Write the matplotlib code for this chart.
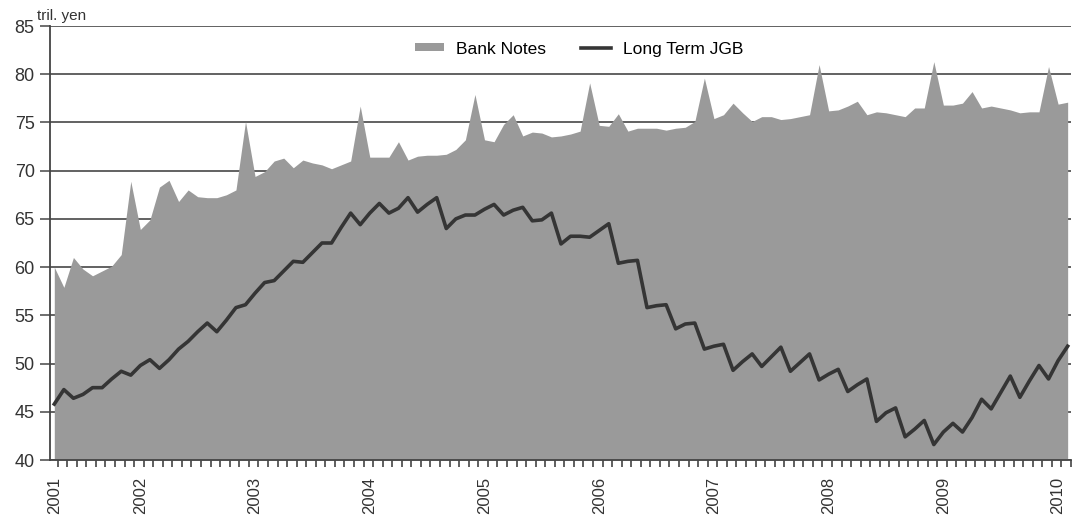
import numpy as np
import pandas as pd
import matplotlib
matplotlib.use("Agg")
import matplotlib.pyplot as plt

plt.rcParams['font.family'] = ['Liberation Sans', 'DejaVu Sans']

# monthly data, April 2001 - February 2010 (tril. yen)
months = pd.date_range("2001-04-01", periods=107, freq="MS")

bank_notes = [
    60.0, 57.9, 61.0, 59.8, 59.1, 59.6, 60.1, 61.3, 68.9, 63.9,
    64.9, 68.3, 69.0, 66.8, 68.0, 67.3, 67.2, 67.2, 67.5, 68.0,
    75.1, 69.4, 69.9, 71.0, 71.3, 70.3, 71.1, 70.8, 70.6, 70.2,
    70.6, 71.0, 76.7, 71.4, 71.4, 71.4, 73.0, 71.1, 71.5, 71.6,
    71.6, 71.7, 72.2, 73.2, 77.9, 73.2, 73.0, 74.8, 75.8, 73.6,
    74.0, 73.9, 73.5, 73.6, 73.8, 74.1, 79.1, 74.7, 74.6, 75.9,
    74.1, 74.4, 74.4, 74.4, 74.2, 74.4, 74.5, 75.1, 79.6, 75.4,
    75.8, 77.0, 76.0, 75.1, 75.6, 75.6, 75.3, 75.4, 75.6, 75.8,
    81.0, 76.2, 76.3, 76.7, 77.2, 75.8, 76.1, 76.0, 75.8, 75.6,
    76.5, 76.5, 81.3, 76.8, 76.8, 77.0, 78.2, 76.5, 76.7, 76.5,
    76.3, 76.0, 76.1, 76.1, 80.8, 76.9, 77.1,
]

long_term_jgb = [
    45.8, 47.3, 46.4, 46.8, 47.5, 47.5, 48.4, 49.2, 48.8, 49.8,
    50.4, 49.5, 50.4, 51.5, 52.3, 53.3, 54.2, 53.3, 54.5, 55.8,
    56.1, 57.3, 58.4, 58.6, 59.6, 60.6, 60.5, 61.5, 62.5, 62.5,
    64.1, 65.6, 64.4, 65.6, 66.6, 65.6, 66.1, 67.2, 65.7, 66.5,
    67.2, 64.0, 65.0, 65.4, 65.4, 66.0, 66.5, 65.4, 65.9, 66.2,
    64.8, 64.9, 65.6, 62.4, 63.2, 63.2, 63.1, 63.8, 64.5, 60.4,
    60.6, 60.7, 55.8, 56.0, 56.1, 53.6, 54.1, 54.2, 51.5, 51.8,
    52.0, 49.3, 50.2, 51.0, 49.7, 50.7, 51.7, 49.2, 50.1, 51.0,
    48.3, 48.9, 49.4, 47.1, 47.8, 48.4, 44.0, 44.9, 45.4, 42.4,
    43.2, 44.1, 41.6, 42.9, 43.8, 42.9, 44.4, 46.3, 45.3, 47.0,
    48.7, 46.5, 48.2, 49.8, 48.4, 50.3, 51.8,
]

x = np.arange(len(months))

fig = plt.figure(figsize=(10.72, 5.23), dpi=100)
ax = fig.add_axes([50 / 1072, 63 / 523, 1021 / 1072, 434 / 523])

ax.fill_between(x, 40, bank_notes, color='#9a9a9a', lw=0, zorder=2, label='Bank Notes')
ax.plot(x, long_term_jgb, color='#353535', lw=2.6, zorder=3, label='Long Term JGB')

ax.set_xlim(-0.45, 106.1)
ax.set_ylim(40, 85)
ax.set_yticks(np.arange(40, 86, 5))
ax.grid(axis='y', color='#555555', lw=1.3, zorder=1)
ax.set_axisbelow(True)

# year labels: first month and every January
lab_pos = [0] + [i for i, m in enumerate(months) if m.month == 1]
lab_txt = [str(months[i].year) for i in lab_pos]
ax.set_xticks(lab_pos)
ax.set_xticklabels(lab_txt, rotation=90, fontsize=12, color='#333333')
ax.set_xticks(x + 0.35, minor=True)
ax.tick_params(axis='x', which='major', length=0, pad=12)
ax.tick_params(axis='x', which='minor', length=5, width=1.2, color='#444444', direction='out')
ax.tick_params(axis='y', length=7, width=1.2, color='#555555', labelsize=13, labelcolor='#333333', pad=4)

for s in ['top', 'right']:
    ax.spines[s].set_visible(False)
ax.spines['left'].set_color('#444444')
ax.spines['left'].set_linewidth(1.3)
ax.spines['bottom'].set_color('#444444')
ax.spines['bottom'].set_linewidth(1.3)

fig.text(37 / 1072, 1 - 20 / 523, 'tril. yen', fontsize=11, color='#333333')

ax.legend(loc='upper center', bbox_to_anchor=(0.518, 1.0), ncol=2, frameon=False,
          fontsize=12.5, handlelength=1.7, handleheight=0.35, handletextpad=0.7,
          columnspacing=2.0)

fig.savefig('out.png', dpi=100)
